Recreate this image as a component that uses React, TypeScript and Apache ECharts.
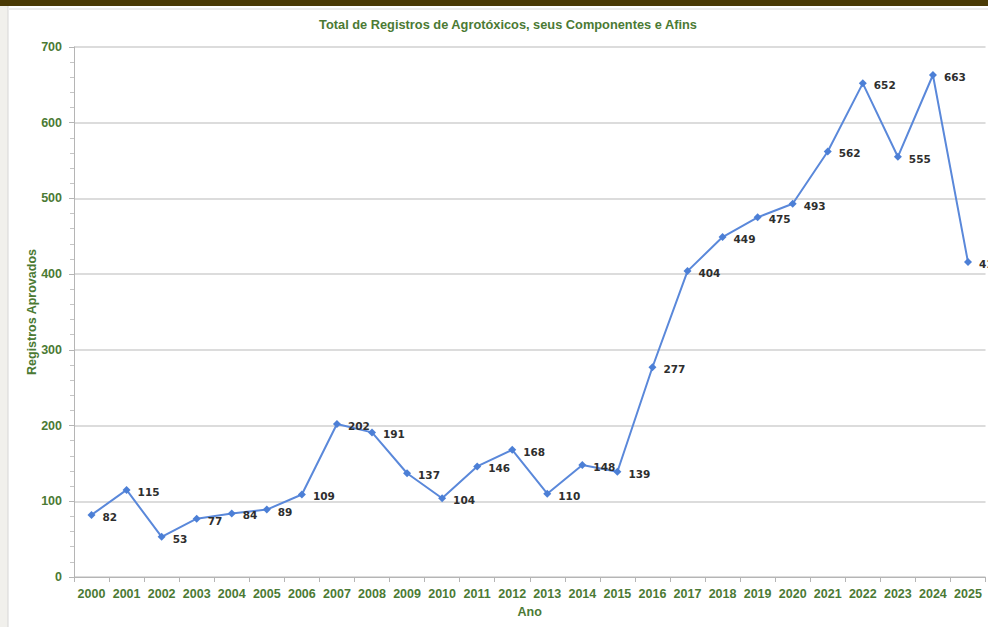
import React, { useEffect, useRef } from "react";
import * as echarts from "echarts";

const years = ["2000","2001","2002","2003","2004","2005","2006","2007","2008","2009","2010","2011","2012","2013","2014","2015","2016","2017","2018","2019","2020","2021","2022","2023","2024","2025"];
const registros = [82,115,53,77,84,89,109,202,191,137,104,146,168,110,148,139,277,404,449,475,493,562,652,555,663,416];
const chartTitle = "Total de Registros de Agrotóxicos, seus Componentes e Afins";
const yAxisName = "Registros Aprovados";
const xAxisName = "Ano";

const green = "#4b7a34";

export default function App() {
  const ref = useRef<HTMLDivElement>(null);
  useEffect(() => {
    document.body.style.margin = "0";
    const chart = echarts.init(ref.current!, null, { renderer: "svg" });
    chart.setOption({
      animation: false,
      backgroundColor: "#ffffff",
      textStyle: { fontFamily: "Liberation Sans, Arial, sans-serif" },
      title: {
        text: chartTitle,
        left: 503,
        textAlign: "center",
        top: 13,
        textStyle: { color: green, fontSize: 12.8, fontWeight: "bold" },
      },
      graphic: [
        { type: "rect", shape: { x: 0, y: 0, width: 988, height: 6 }, style: { fill: "#4a3a05" }, silent: true },
        { type: "rect", shape: { x: 0, y: 6, width: 8, height: 621 }, style: { fill: "#f1f0ec" }, silent: true },
        { type: "line", shape: { x1: 8, y1: 6, x2: 8, y2: 627 }, style: { stroke: "#d6d6d6", lineWidth: 1 }, silent: true },
        { type: "line", shape: { x1: 8, y1: 9, x2: 988, y2: 9 }, style: { stroke: "#ececec", lineWidth: 2 }, silent: true },
      ],
      grid: { left: 74, right: 2.5, top: 47, bottom: 50, containLabel: false },
      xAxis: {
        type: "category",
        data: years,
        boundaryGap: true,
        name: xAxisName,
        nameLocation: "middle",
        nameGap: 28,
        nameMoveOverlap: false,
        nameTextStyle: { color: green, fontSize: 12.5, fontWeight: "bold" },
        axisLine: { lineStyle: { color: "#b5b5b5", width: 1 } },
        axisTick: { show: true, alignWithLabel: false, length: 5, lineStyle: { color: "#b5b5b5" } },
        axisLabel: { color: green, fontSize: 12.5, fontWeight: "bold", margin: 10, interval: 0 },
        splitLine: { show: false },
      },
      yAxis: {
        type: "value",
        min: 0,
        max: 700,
        interval: 100,
        name: yAxisName,
        nameLocation: "middle",
        nameGap: 36,
        nameMoveOverlap: false,
        nameTextStyle: { color: green, fontSize: 12.5, fontWeight: "bold" },
        axisLine: { show: true, lineStyle: { color: "#b5b5b5", width: 1 } },
        axisTick: { show: true, length: 5, lineStyle: { color: "#b5b5b5" } },
        minorTick: { show: true, splitNumber: 5, length: 4, lineStyle: { color: "#c5c5c5" } },
        axisLabel: { color: green, fontSize: 12.5, fontWeight: "bold", margin: 12 },
        splitLine: { show: true, lineStyle: { color: "#dcdcdc", width: 2 } },
      },
      series: [
        {
          type: "line",
          data: registros,
          symbol: "diamond",
          symbolSize: 8,
          itemStyle: { color: "#4c7fd6" },
          lineStyle: { color: "#5a88da", width: 2 },
          label: {
            show: true,
            position: "right",
            distance: 7,
            offset: [0, 2],
            color: "#2e2e2e",
            fontFamily: "DejaVu Sans, sans-serif",
            fontSize: 10.5,
            fontWeight: "bold",
          },
        },
      ],
    });
    return () => chart.dispose();
  }, []);
  return <div ref={ref} style={{ width: 988, height: 627 }} />;
}
